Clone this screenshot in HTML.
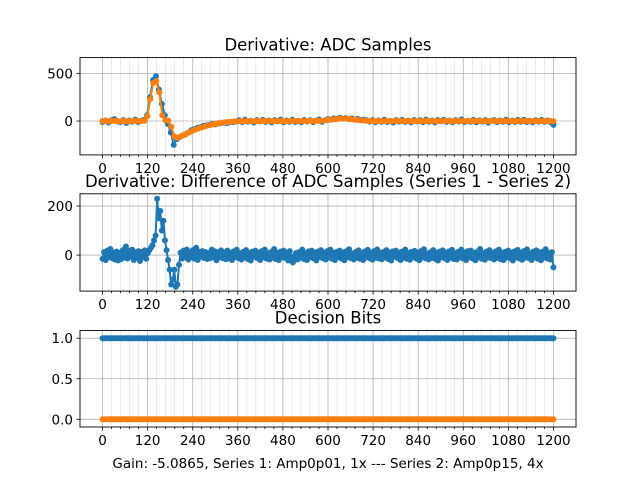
<!DOCTYPE html>
<html><head><meta charset="utf-8"><style>
html,body{margin:0;padding:0;background:#fff}
svg{display:block;font-family:"DejaVu Sans","Liberation Sans",sans-serif}
</style></head><body>
<svg id="fig" width="640" height="480" viewBox="0 0 640 480"></svg>
<script>
// ---- data (evenly spaced samples spanning 0..1200) ----
const xMax = 1200;
const xTicks = [0,120,240,360,480,600,720,840,960,1080,1200];
const adcSeries1 = [-10,5,-15,8,20,-5,-12,10,-20,6,-8,15,-10,4,12,
 60,250,430,470,330,180,60,-30,-120,-250,-190,-170,-150,-140,-120,-95,-85,-70,-65,-50,-45,-40,-30,-35,-25,-20,-18,-22,-10,-12,-5,
 8,-12,14,-6,3,-15,10,-4,12,-9,5,-14,9,-2,15,-11,6,-7,13,-10,2,-13,11,-5,8,-12,4,16,-8,10,20,15,28,22,35,25,30,20,26,18,22,12,15,8,-6,
 10,-12,5,-8,14,-10,3,-15,9,-6,12,-9,4,-13,11,-3,8,-11,15,-7,6,-14,10,-2,13,-9,5,-12,9,-5,16,-10,3,-8,12,-13,7,-6,10,-15,4,
 9,-11,6,-8,13,-12,5,-9,11,-7,14,-10,3,-13,8,-6,12,-9,5,-11,-40];
const adcSeries2 = [0,2,-2,1,3,-1,-2,1,-3,1,-1,2,-1,0,2,
 50,230,400,420,300,60,10,5,-60,-160,-175,-165,-150,-135,-120,-105,-92,-80,-70,-60,-50,-42,-35,-28,-22,-17,-13,-10,-7,-5,-3,
 -2,-1,0,-1,0,-2,0,-1,0,1,0,-1,0,1,0,-1,0,1,0,0,1,0,0,1,0,1,2,3,5,8,12,16,20,24,26,25,23,20,16,12,9,6,4,2,1,
 0,1,0,-1,0,0,-1,0,1,0,0,-1,0,0,1,0,-1,0,0,1,0,-1,0,0,1,0,-1,0,0,1,0,0,-1,0,1,0,0,-1,0,0,
 1,0,-1,0,0,1,0,0,-1,0,1,0,-1,0,0,1,0,0,-1,0,-2];
const diffSeries = [-15,12,-20,18,-8,25,-12,10,-18,14,-22,9,-16,20,-10,35,-14,18,-6,22,-20,11,-9,16,-24,13,-7,19,-15,8,
 20,30,40,60,80,230,150,180,100,140,60,20,-20,-60,-120,-100,-60,-130,-120,-40,10,
 -14,18,-10,22,-18,12,-8,20,-15,30,-20,14,-6,16,-12,12,-16,8,-12,22,-9,15,-21,11,-7,19,-13,9,-17,
 18,-14,9,-20,15,-8,22,-12,6,-18,13,-10,20,-16,8,-22,14,-6,18,-12,10,-20,16,-9,22,-14,7,-18,12,-10,
 25,-16,9,-20,14,-8,18,-12,10,-22,16,-6,-30,-14,8,-18,12,-10,22,-16,6,-20,15,-9,18,-13,10,-22,14,-8,
 20,-12,7,-18,16,-10,22,-15,9,-20,13,-7,18,-14,10,-21,15,-8,24,-12,6,-18,12,-11,19,-15,8,-20,14,-9,
 21,-13,7,-19,16,-10,23,-14,9,-17,12,-8,20,-16,10,-22,15,-6,18,-12,9,-20,14,-11,22,-15,8,-19,13,-7,
 17,-14,10,-21,16,-9,24,-13,6,-18,11,-10,20,-15,9,-22,14,-8,19,-12,8,-20,15,-10,21,-16,7,-18,13,-9,
 22,-14,10,-20,16,-8,18,-13,9,-21,12,-7,25,-15,8,-19,14,-10,20,-12,7,-18,15,-11,22,-16,9,-20,13,-8,
 18,-13,10,-22,15,-9,21,-14,8,-19,16,-10,23,-12,6,-20,14,-8,19,-15,10,-21,13,-9,24,-14,8,-18,12,-50];
const bitsSeries1 = Array(301).fill(1);
const bitsSeries2 = Array(301).fill(0);
const yTicks1 = [0,500], yTicks2 = [0,200], yTicks3 = [0.0,0.5,1.0];

const NS='http://www.w3.org/2000/svg';
const svg=document.getElementById('fig');
function mk(tag,attrs,parent){const e=document.createElementNS(NS,tag);for(const k in attrs)e.setAttribute(k,attrs[k]);(parent||svg).appendChild(e);return e;}
const L=80,R=576;
const xS=v=>L+(v+60)/1320*(R-L);
function axes(name,top,bot,ymin,ymax,yt,fmt,series,colors,title,xlabel){
  const g=mk('g',{});
  
  
  const yS=v=>bot-(v-ymin)/(ymax-ymin)*(bot-top);
  for(let v=0;v<=1200;v+=24){const x=xS(v);const major=v%120===0;
    const gl=mk('line',{x1:x,x2:x,y1:top,y2:bot,stroke:major?'#b0b0b0':'#dedede','stroke-width':major?0.8:0.6},g);
    
    mk('line',{x1:x,x2:x,y1:bot,y2:bot+(major?3.5:2),stroke:'#000','stroke-width':0.8},g);}
  yt.forEach(v=>{const y=yS(v);
    const gl=mk('line',{x1:L,x2:R,y1:y,y2:y,stroke:'#b0b0b0','stroke-width':0.8},g);
    
    mk('line',{x1:L-3.5,x2:L,y1:y,y2:y,stroke:'#000','stroke-width':0.8},g);
    const t=mk('text',{x:L-7,y:y+5,'text-anchor':'end','font-size':13.5},g);t.textContent=fmt(v);
    });
  xTicks.forEach(v=>{const t=mk('text',{x:xS(v),y:bot+18,'text-anchor':'middle','font-size':13.5},g);t.textContent=v;
    });
  series.forEach((s,si)=>{
    const xv=i=>i*xMax/(s.length-1);
    const pts=s.map((v,i)=>xS(xv(i)).toFixed(1)+','+yS(v).toFixed(1)).join(' ');
    const pl=mk('polyline',{points:pts,fill:'none',stroke:colors[si],'stroke-width':2},g);
    
    s.forEach((v,i)=>{const c=mk('circle',{cx:xS(xv(i)),cy:yS(v),r:3,fill:colors[si]},g);
      });
  });
  const fr=mk('rect',{x:L,y:top,width:R-L,height:bot-top,fill:'none',stroke:'#000','stroke-width':0.9},g);
  
  const tt=mk('text',{x:(L+R)/2,y:top-7,'text-anchor':'middle','font-size':16.5},g);tt.textContent=title;
  
  if(xlabel){const xl=mk('text',{x:(L+R)/2,y:bot+41,'text-anchor':'middle','font-size':13.5},g);xl.textContent=xlabel;
    }
}
const B='#1f77b4',O='#ff7f0e';
axes('adc-samples-chart',57.6,154.9,-355,665,yTicks1,v=>v,[adcSeries1,adcSeries2],[B,O],'Derivative: ADC Samples');
axes('difference-chart',193.8,291.1,-147,250,yTicks2,v=>v,[diffSeries],[B],'Derivative: Difference of ADC Samples (Series 1 - Series 2)');
axes('decision-bits-chart',330.5,427,-0.095,1.095,yTicks3,v=>v.toFixed(1),[bitsSeries1,bitsSeries2],[B,O],'Decision Bits','Gain: -5.0865, Series 1: Amp0p01, 1x --- Series 2: Amp0p15, 4x');
</script>
</body></html>
